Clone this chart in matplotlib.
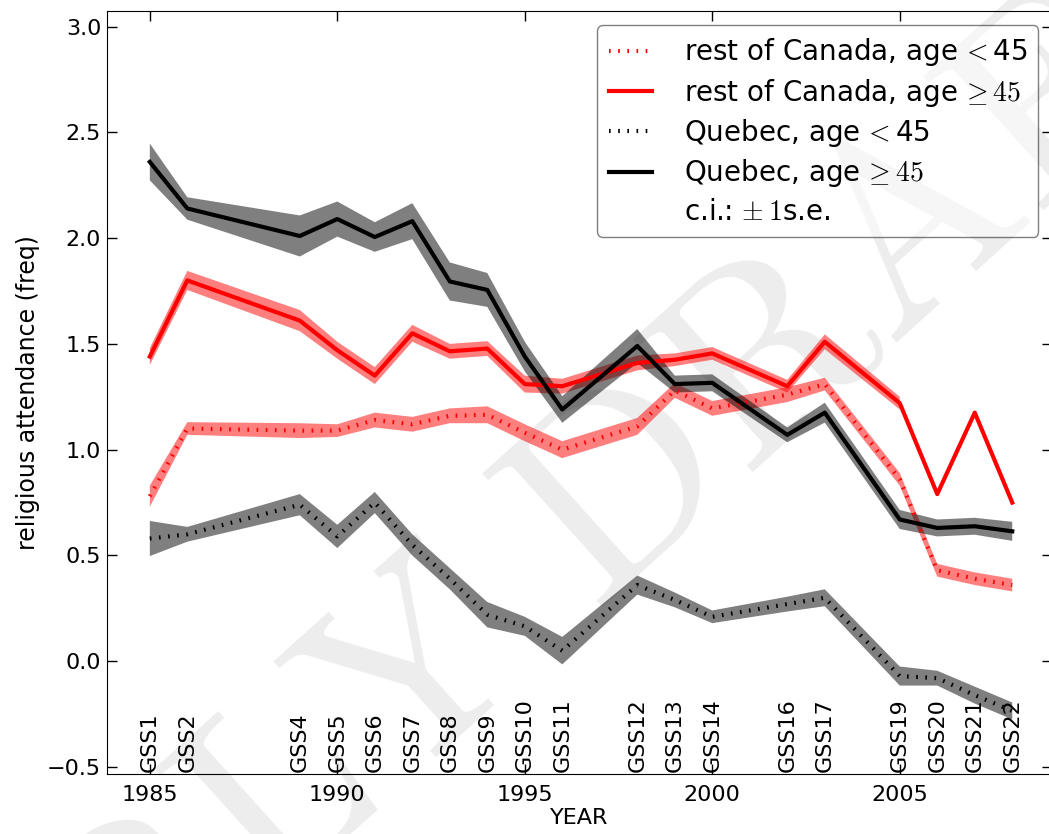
import numpy as np
import matplotlib
matplotlib.use('Agg')
import matplotlib.pyplot as plt
from matplotlib.lines import Line2D

plt.rcParams['mathtext.fontset'] = 'cm'
plt.rcParams['font.family'] = 'DejaVu Sans'

# survey years and the GSS cycle run in each
years = [1985, 1986, 1989, 1990, 1991, 1992, 1993, 1994, 1995, 1996,
         1998, 1999, 2000, 2002, 2003, 2005, 2006, 2007, 2008]
gss = ['GSS1', 'GSS2', 'GSS4', 'GSS5', 'GSS6', 'GSS7', 'GSS8', 'GSS9', 'GSS10',
       'GSS11', 'GSS12', 'GSS13', 'GSS14', 'GSS16', 'GSS17', 'GSS19', 'GSS20',
       'GSS21', 'GSS22']

# mean attendance and standard errors
roc_young = [0.78, 1.10, 1.09, 1.09, 1.14, 1.12, 1.16, 1.165, 1.08, 1.00,
             1.11, 1.28, 1.195, 1.26, 1.31, 0.86, 0.43, 0.39, 0.36]
roc_young_se = [0.05, 0.03, 0.035, 0.03, 0.035, 0.035, 0.035, 0.04, 0.04, 0.04,
                0.04, 0.035, 0.035, 0.035, 0.03, 0.03, 0.03, 0.03, 0.03]
roc_old = [1.44, 1.80, 1.61, 1.47, 1.35, 1.55, 1.465, 1.478, 1.31, 1.30,
           1.41, 1.425, 1.455, 1.30, 1.51, 1.22, 0.79, 1.175, 0.75]
roc_old_se = [0.04, 0.045, 0.05, 0.04, 0.04, 0.04, 0.035, 0.035, 0.04, 0.035,
              0.035, 0.03, 0.03, 0.03, 0.035, 0.03, np.nan, np.nan, np.nan]
que_young = [0.58, 0.60, 0.74, 0.59, 0.75, 0.55, 0.39, 0.22, 0.165, 0.05,
             0.36, 0.29, 0.21, 0.27, 0.30, -0.07, -0.08, -0.16, -0.235]
que_young_se = [0.083, 0.035, 0.05, 0.055, 0.05, 0.05, 0.05, 0.06, 0.045, 0.065,
                0.045, 0.035, 0.03, 0.035, 0.04, 0.045, 0.035, 0.04, 0.04]
que_old = [2.36, 2.14, 2.01, 2.09, 2.005, 2.08, 1.795, 1.755, 1.44, 1.19,
           1.49, 1.31, 1.316, 1.07, 1.175, 0.67, 0.63, 0.638, 0.614]
que_old_se = [0.087, 0.053, 0.097, 0.083, 0.07, 0.085, 0.09, 0.08, 0.07, 0.063,
              0.08, 0.04, 0.04, 0.035, 0.047, 0.045, 0.04, 0.04, 0.045]

dotted = (0, (0.4, 1.8))

fig = plt.figure(figsize=(10.49, 8.34), dpi=100)
# faint watermark behind the axes
fig.text(0.50, 0.305, r'$\mathrm{EARLY\ DRAFT}$', fontsize=190, color='#ededed',
         rotation=42, ha='center', va='center', rotation_mode='anchor', zorder=-1)
ax = fig.add_axes([106.7/1049, 1-774/834, (1052-106.7)/1049, (774-11.3)/834])
ax.set_facecolor('none')

yr = np.array(years)
series = [
    (roc_young, roc_young_se, 'r', dotted, r'rest of Canada, age$\,<$45'),
    (roc_old, roc_old_se, 'r', '-', r'rest of Canada, age$\,\geq 45$'),
    (que_young, que_young_se, 'k', dotted, r'Quebec, age$\,<$45'),
    (que_old, que_old_se, 'k', '-', r'Quebec, age$\,\geq 45$'),
]
handles = []
for m, se, c, ls, lab in series:
    m = np.array(m)
    se = np.array(se)
    ax.fill_between(yr, m - se, m + se, facecolor=c, alpha=0.5, lw=0)
    ln, = ax.plot(yr, m, color=c, ls=ls, lw=3, label=lab)
    handles.append(ln)
handles.append(Line2D([], [], color='none', label=r'c.i.:$\,\pm 1$s.e.'))

for x, lab in zip(years, gss):
    ax.text(x, -0.522, lab, rotation=90, ha='center', va='bottom', fontsize=16)

ax.set_xlim(1983.85, 2009.06)
ax.set_ylim(-0.533, 3.072)
ax.set_xticks([1985, 1990, 1995, 2000, 2005])
ax.set_yticks(np.arange(-0.5, 3.01, 0.5))
ax.tick_params(direction='in', top=True, right=True, length=7, width=1, labelsize=16)
ax.tick_params(axis='x', pad=8)
ax.tick_params(axis='y', pad=4)
ax.set_xlabel('YEAR', fontsize=16, labelpad=2)
ax.set_ylabel('religious attendance (freq)', fontsize=17, labelpad=5)

ax.legend(handles=handles, loc='upper right', fontsize=20, fancybox=True,
          framealpha=0.5, edgecolor='k', handlelength=1.55, handletextpad=1.15,
          labelspacing=0.3, borderpad=0.4)

plt.savefig('out.png', dpi=100)
